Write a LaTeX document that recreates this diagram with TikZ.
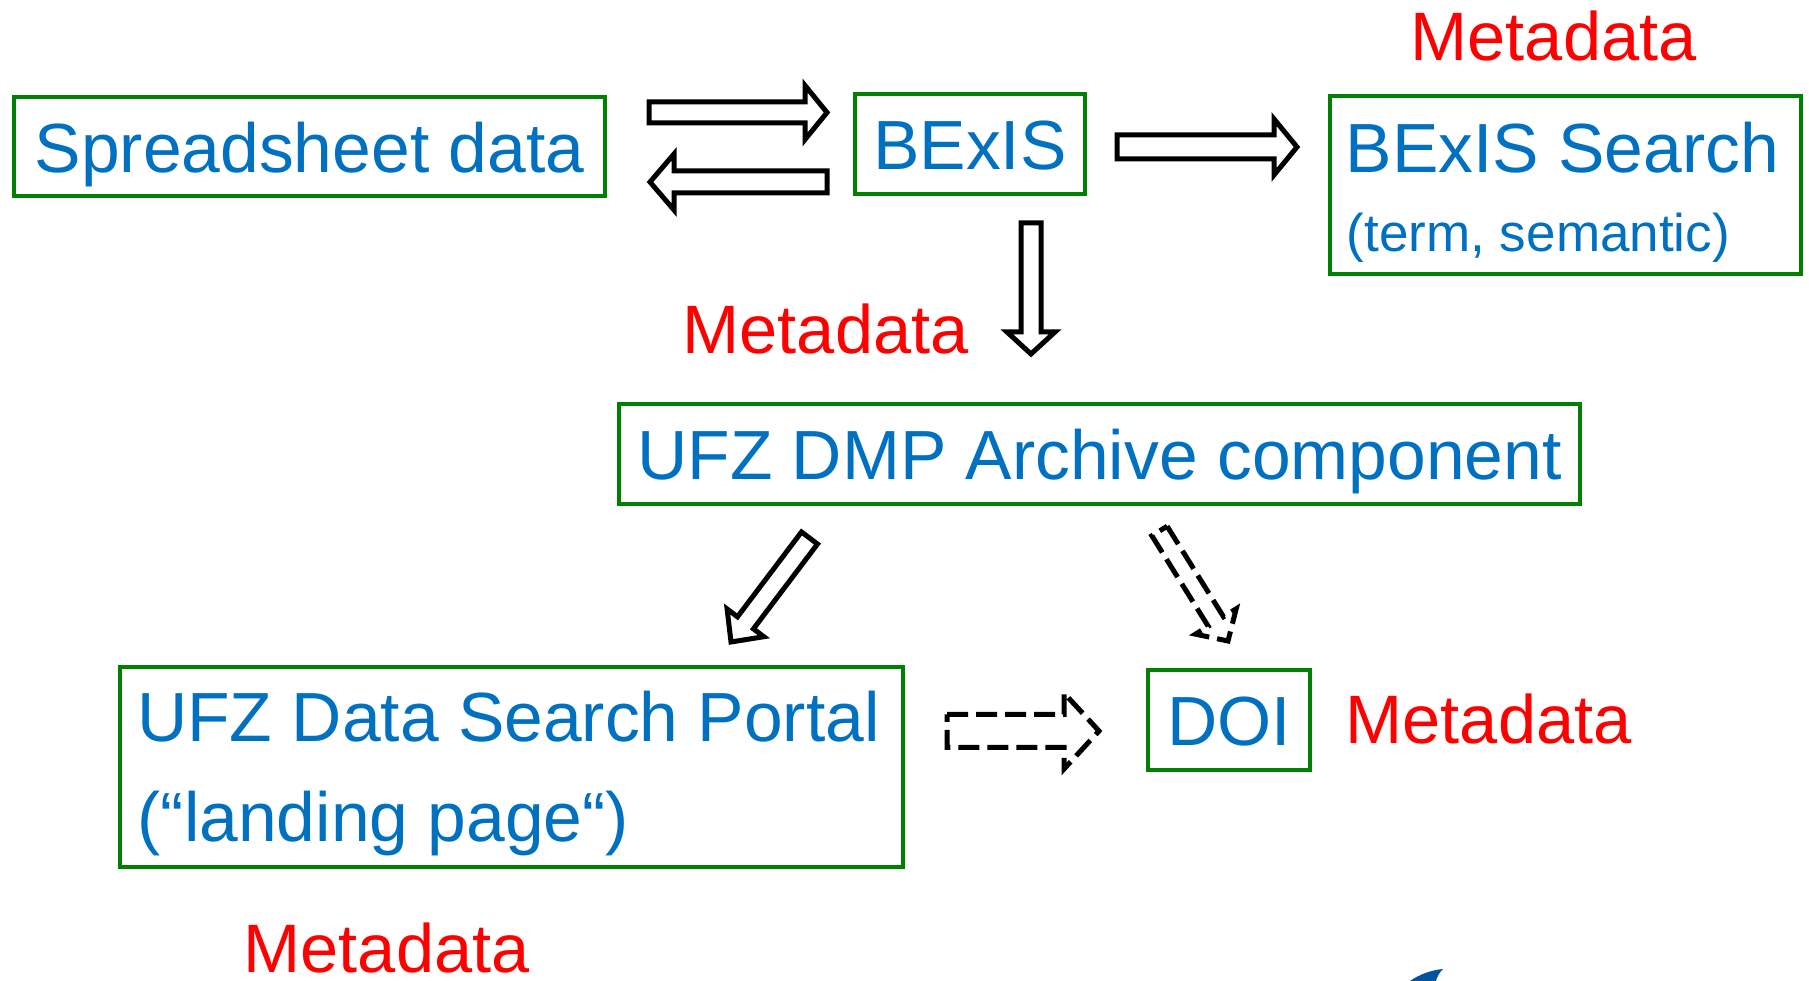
\documentclass[tikz,border=0pt]{standalone}
\usepackage{fontspec}
\setmainfont{Liberation Sans}
\usetikzlibrary{calc}
\definecolor{boxgreen}{HTML}{008000}
\definecolor{textblue}{HTML}{0070C0}
\definecolor{metared}{HTML}{FF0000}
\definecolor{logoblue}{HTML}{00549F}
\tikzset{
    box/.style={draw=boxgreen, line width=0.45mm, text=textblue, inner sep=0pt,
        font=\fontsize{19.8}{23}\selectfont, text height=0.6cm, text depth=0.08cm},
    boxtext/.style={text=textblue, inner sep=0pt, anchor=base west, font=\fontsize{19.8}{23}\selectfont},
    subtext/.style={boxtext, font=\fontsize{15.1}{18}\selectfont},
    meta/.style={text=metared, inner sep=0pt, anchor=base west, font=\fontsize{19.5}{23}\selectfont},
    hollow/.style={draw=black, line width=0.5mm, fill=white},
    hollowdash/.style={hollow, dash pattern=on 2.1mm off 0.8mm},
}
% #1 style, #2 from, #3 tip, #4 half shaft, #5 head length, #6 half head
\newcommand{\blockarrow}[6]{%
    \coordinate (ba-c) at ($(#3)!#5!(#2)$);
    \draw[#1] ($(#2)!#4!90:(#3)$) -- ($(ba-c)!#4!90:(#3)$) -- ($(ba-c)!#6!90:(#3)$)
        -- (#3) -- ($(ba-c)!#6!-90:(#3)$) -- ($(ba-c)!#4!-90:(#3)$) -- ($(#2)!#4!-90:(#3)$) -- cycle;
}

\begin{document}
\begin{tikzpicture}[]
            \useasboundingbox (0,0) rectangle (18.09,9.81);
            \node[box, minimum width=5.91cm, minimum height=0.99cm] (sheet) at (3.095,8.345) {Spreadsheet data};
            \node[box, minimum width=2.30cm, minimum height=1.00cm] (bexis) at (9.70,8.37) {BExIS};
            \node[box, minimum width=4.71cm, minimum height=1.78cm] (search) at (15.655,7.96) {};
            \node[boxtext] (searchtitle) at (13.45,8.08) {BExIS Search};
            \node[subtext] (searchsub) at (13.46,7.29) {(term, semantic)};
            \node[box, minimum width=9.61cm, minimum height=1.00cm] (dmp) at (10.995,5.27) {UFZ DMP Archive component};
            \node[box, minimum width=7.83cm, minimum height=2.00cm] (portal) at (5.115,2.14) {};
            \node[boxtext] (portaltitle) at (1.365,2.39) {UFZ Data Search Portal};
            \node[boxtext] (portalsub) at (1.37,1.39) {(“landing page“)};
            \node[box, minimum width=1.62cm, minimum height=1.00cm] (doi) at (12.29,2.61) {DOI};

            \node[meta] (metasearch) at (14.10,9.20) {Metadata};
            \node[meta] (metadmp) at (6.82,6.27) {Metadata};
            \node[meta] (metadoi) at (13.45,2.37) {Metadata};
            \node[meta] (metaportal) at (2.43,0.08) {Metadata};

            \coordinate (sheet-out) at (6.49,8.685);
            \coordinate (bexis-in) at (8.27,8.685);
            \coordinate (bexis-out) at (8.27,7.99);
            \coordinate (sheet-in) at (6.50,7.99);
            \coordinate (bexis-right) at (11.17,8.34);
            \coordinate (search-in) at (12.97,8.34);
            \coordinate (bexis-down) at (10.31,7.58);
            \coordinate (dmp-in) at (10.31,6.27);
            \coordinate (dmp-left) at (8.095,4.43);
            \coordinate (portal-in) at (7.31,3.39);
            \coordinate (dmp-right) at (11.595,4.50);
            \coordinate (doi-top) at (12.28,3.40);
            \coordinate (portal-out) at (9.47,2.50);
            \coordinate (doi-in) at (10.99,2.50);

            \blockarrow{hollow}{sheet-out}{bexis-in}{0.105cm}{0.22cm}{0.27cm}
            \blockarrow{hollow}{bexis-out}{sheet-in}{0.11cm}{0.24cm}{0.28cm}
            \blockarrow{hollow}{bexis-right}{search-in}{0.12cm}{0.23cm}{0.28cm}
            \blockarrow{hollow}{bexis-down}{dmp-in}{0.10cm}{0.22cm}{0.24cm}
            \blockarrow{hollow}{dmp-left}{portal-in}{0.10cm}{0.24cm}{0.23cm}
            \blockarrow{hollowdash}{dmp-right}{doi-top}{0.09cm}{0.23cm}{0.24cm}
            \blockarrow{hollowdash}{portal-out}{doi-in}{0.165cm}{0.35cm}{0.38cm}

            \fill[logoblue] (14.10,0) .. controls (14.20,0.07) and (14.32,0.11) .. (14.43,0.12)
                .. controls (14.39,0.08) and (14.37,0.04) .. (14.36,0) -- cycle;
        \end{tikzpicture}
\end{document}
